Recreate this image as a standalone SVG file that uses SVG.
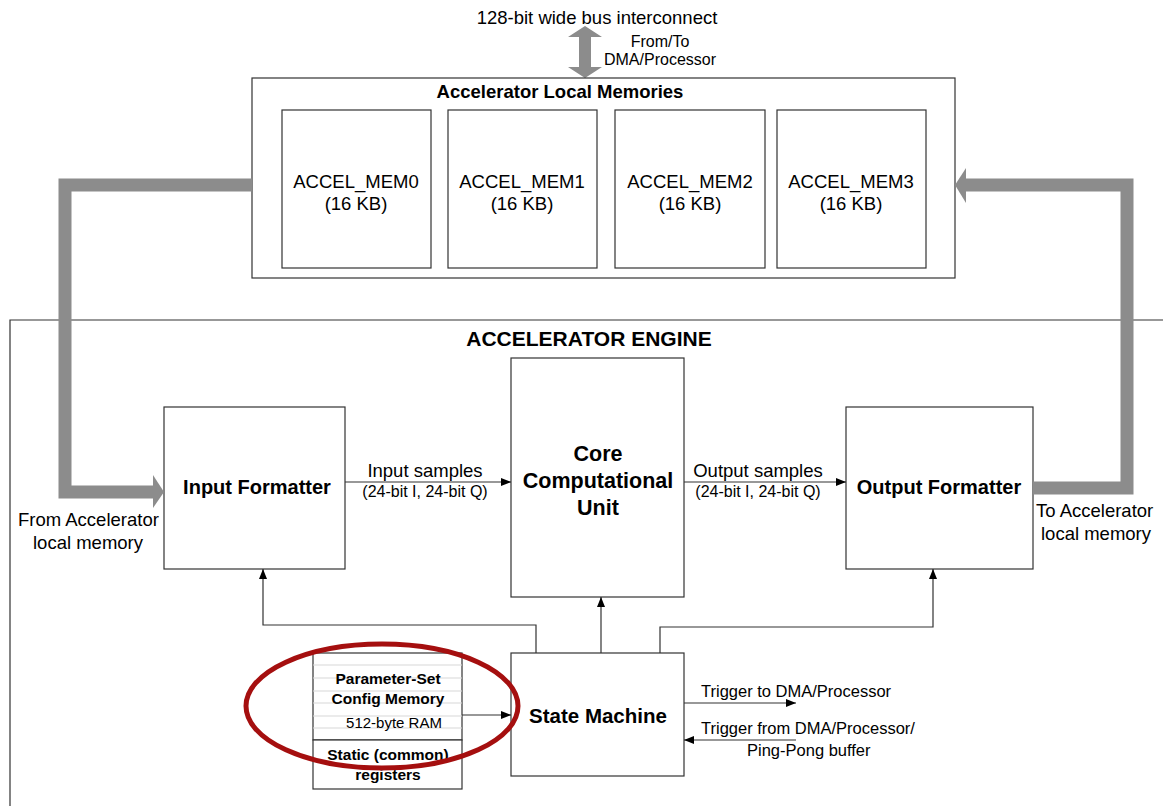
<svg xmlns="http://www.w3.org/2000/svg" width="1163" height="806" viewBox="0 0 1163 806">
<defs>
<marker id="ah" markerWidth="10" markerHeight="8" refX="10" refY="4" orient="auto" markerUnits="userSpaceOnUse">
<path d="M0,0 L10,4 L0,8 Z" fill="#000"/>
</marker>
<style>
.box{fill:#fff;stroke:#333;stroke-width:1.2}
.t{font-family:"Liberation Sans",Arial,sans-serif;fill:#000}
.b{font-weight:bold}
.ln{fill:none;stroke:#333;stroke-width:1.2}
.thick{fill:none;stroke:#8c8c8c;stroke-width:13}
.gl{stroke:#d8d8d8;stroke-width:1.2}
</style>
</defs>
<rect width="1163" height="806" fill="#fff"/>

<!-- Engine frame -->
<g id="engine">
<path d="M1163,320 H10 V806" fill="none" stroke="#333" stroke-width="1.2"/>
<text class="t b" x="589" y="346" font-size="21" text-anchor="middle">ACCELERATOR ENGINE</text>
</g>

<!-- Bus interconnect -->
<g id="bus">
<text class="t" x="597" y="24" font-size="18.5" text-anchor="middle">128-bit wide bus interconnect</text>
<text class="t" x="660" y="47" font-size="16" text-anchor="middle">From/To</text>
<text class="t" x="660" y="65" font-size="16" text-anchor="middle">DMA/Processor</text>
<polygon points="585,26 568,37 579,37 579,67 568,67 585,78 602,67 591,67 591,37 602,37" fill="#8c8c8c"/>
</g>

<!-- Local memories -->
<g id="localmem">
<rect class="box" x="252" y="78" width="703" height="200"/>
<text class="t b" x="560" y="98" font-size="18.5" text-anchor="middle">Accelerator Local Memories</text>
</g>
<g id="mem0">
<rect class="box" x="282" y="110" width="149" height="158"/>
<text class="t" x="356" y="188" font-size="18.5" text-anchor="middle">ACCEL_MEM0</text>
<text class="t" x="356" y="210" font-size="18.5" text-anchor="middle">(16 KB)</text>
</g>
<g id="mem1">
<rect class="box" x="448" y="110" width="149" height="158"/>
<text class="t" x="522" y="188" font-size="18.5" text-anchor="middle">ACCEL_MEM1</text>
<text class="t" x="522" y="210" font-size="18.5" text-anchor="middle">(16 KB)</text>
</g>
<g id="mem2">
<rect class="box" x="615" y="110" width="150" height="158"/>
<text class="t" x="690" y="188" font-size="18.5" text-anchor="middle">ACCEL_MEM2</text>
<text class="t" x="690" y="210" font-size="18.5" text-anchor="middle">(16 KB)</text>
</g>
<g id="mem3">
<rect class="box" x="777" y="110" width="149" height="158"/>
<text class="t" x="851" y="188" font-size="18.5" text-anchor="middle">ACCEL_MEM3</text>
<text class="t" x="851" y="210" font-size="18.5" text-anchor="middle">(16 KB)</text>
</g>

<!-- Processing blocks -->
<g id="input-formatter">
<rect class="box" x="164" y="407" width="181" height="162"/>
<text class="t b" x="257" y="494" font-size="20" text-anchor="middle">Input Formatter</text>
</g>
<g id="core">
<rect class="box" x="511" y="358" width="173" height="239"/>
<text class="t b" x="598" y="461" font-size="21.5" text-anchor="middle">Core</text>
<text class="t b" x="598" y="488" font-size="21.5" text-anchor="middle">Computational</text>
<text class="t b" x="598" y="515" font-size="21.5" text-anchor="middle">Unit</text>
</g>
<g id="output-formatter">
<rect class="box" x="846" y="407" width="187" height="162"/>
<text class="t b" x="939" y="494" font-size="20" text-anchor="middle">Output Formatter</text>
</g>
<g id="state-machine">
<rect class="box" x="511" y="653" width="173" height="123"/>
<text class="t b" x="598" y="723" font-size="20.5" text-anchor="middle">State Machine</text>
</g>
<g id="param-config">
<rect class="box" x="313" y="653" width="149" height="87"/>
<line class="gl" x1="313" y1="665" x2="462" y2="665"/>
<line class="gl" x1="313" y1="678" x2="462" y2="678"/>
<line class="gl" x1="313" y1="691" x2="462" y2="691"/>
<line class="gl" x1="313" y1="703" x2="462" y2="703"/>
<line class="gl" x1="313" y1="716" x2="462" y2="716"/>
<line class="gl" x1="313" y1="728" x2="462" y2="728"/>
<text class="t b" x="388" y="684" font-size="15.5" text-anchor="middle">Parameter-Set</text>
<text class="t b" x="388" y="704" font-size="15.5" text-anchor="middle">Config Memory</text>
<text class="t" x="394" y="728" font-size="15" text-anchor="middle">512-byte RAM</text>
</g>
<g id="static-regs">
<rect class="box" x="313" y="740" width="149" height="49"/>
<text class="t b" x="388" y="760" font-size="15.5" text-anchor="middle">Static (common)</text>
<text class="t b" x="388" y="780" font-size="15.5" text-anchor="middle">registers</text>
</g>

<!-- Connectors -->
<g id="connectors">
<path class="thick" d="M252,185 H65 V492 H153"/>
<polygon points="153,475 164,492 153,508" fill="#8c8c8c"/>
<path class="thick" d="M1033,488 H1127 V185 H966"/>
<polygon points="966,168 955,185 966,203" fill="#8c8c8c"/>

<line class="ln" x1="345" y1="482" x2="511" y2="482" marker-end="url(#ah)"/>
<line class="ln" x1="684" y1="482" x2="846" y2="482" marker-end="url(#ah)"/>
<path class="ln" d="M536,653 V625 H263 V569" marker-end="url(#ah)"/>
<path class="ln" d="M601,653 V597" marker-end="url(#ah)"/>
<path class="ln" d="M660,653 V627 H933 V569" marker-end="url(#ah)"/>
<line class="ln" x1="462" y1="715" x2="511" y2="715" marker-end="url(#ah)"/>
<line class="ln" x1="684" y1="703" x2="796" y2="703" marker-end="url(#ah)"/>
<line class="ln" x1="796" y1="740" x2="684" y2="740" marker-end="url(#ah)"/>
</g>

<!-- Connector labels -->
<g id="labels">
<text class="t" x="18" y="526" font-size="18.5">From Accelerator</text>
<text class="t" x="33" y="549" font-size="18.5">local memory</text>
<text class="t" x="1036" y="517" font-size="18.5">To Accelerator</text>
<text class="t" x="1041" y="540" font-size="18.5">local memory</text>
<text class="t" x="425" y="477" font-size="18.5" text-anchor="middle">Input samples</text>
<text class="t" x="425" y="497" font-size="16" text-anchor="middle">(24-bit I, 24-bit Q)</text>
<text class="t" x="758" y="477" font-size="18.5" text-anchor="middle">Output samples</text>
<text class="t" x="758" y="497" font-size="16" text-anchor="middle">(24-bit I, 24-bit Q)</text>
<text class="t" x="701" y="697" font-size="16.5">Trigger to DMA/Processor</text>
<text class="t" x="701" y="734" font-size="16.5">Trigger from DMA/Processor/</text>
<text class="t" x="747" y="756" font-size="16.5">Ping-Pong buffer</text>
</g>

<!-- Highlight -->
<ellipse cx="382" cy="706" rx="136" ry="62" fill="none" stroke="#a50f0f" stroke-width="5"/>
</svg>
